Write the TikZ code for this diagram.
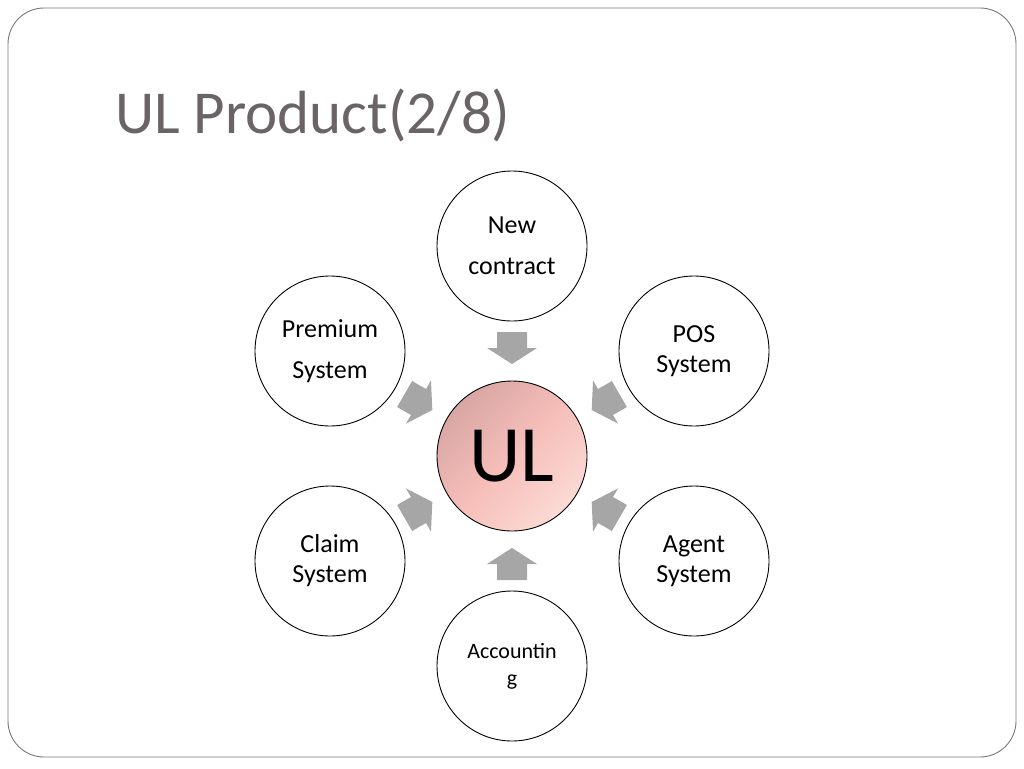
\documentclass[tikz,border=0pt]{standalone}
\usepackage{fontspec}
\setmainfont{Carlito}
\usetikzlibrary{positioning}
\definecolor{titlegray}{RGB}{107,100,102}
\definecolor{framegray}{RGB}{120,120,120}
\definecolor{arrowgray}{RGB}{166,166,166}
\definecolor{ulDark}{RGB}{216,166,164}
\definecolor{ulMid}{RGB}{246,190,185}
\definecolor{ulLight}{RGB}{252,218,213}
\tikzset{
  sysnode/.style={draw, circle, line width=0.9pt, minimum size=150pt, inner sep=0pt,
    align=center, font=\fontsize{26}{30}\selectfont},
  sysloose/.style={sysnode, font=\fontsize{26}{41}\selectfont},
}

\begin{document}
\begin{tikzpicture}[x=1pt,y=-1pt]
        \useasboundingbox (0,0) rectangle (1024,768);
        \draw[framegray, line width=0.9pt, rounded corners=36pt] (8,8) rectangle (1016,757);
        \node[anchor=base west, text=titlegray, inner sep=0pt,
              font=\fontsize{61}{70}\selectfont] (title) at (115,133) {UL Product(2/8)};
        % centre
        \node[draw, circle, line width=0.9pt, minimum size=150pt, inner sep=0pt,
              top color=ulDark, bottom color=ulLight, middle color=ulMid, shading angle=45,
              font=\fontsize{80}{90}\selectfont] (ul) at (512,456) {UL};
        % outer systems
        \node[sysloose] (newc) at (512,246) {New\\contract};
        \node[sysnode] (pos) at (694,351) {POS\\System};
        \node[sysnode] (agent) at (694,561) {Agent\\System};
        \node[sysnode, font=\fontsize{22}{27}\selectfont] (acct) at (512,666) {Accountin\\g};
        \node[sysnode] (claim) at (330,561) {Claim\\System};
        \node[sysloose] (prem) at (330,351) {Premium\\System};
        % arrows into the centre
        \foreach \a in {30,90,...,330}
          \fill[arrowgray, shift={(ul.center)}, rotate=\a]
            (124,-15) -- (108,-15) -- (108,-25) -- (92,0) -- (108,25) -- (108,15) -- (124,15) -- cycle;
      \end{tikzpicture}
\end{document}
